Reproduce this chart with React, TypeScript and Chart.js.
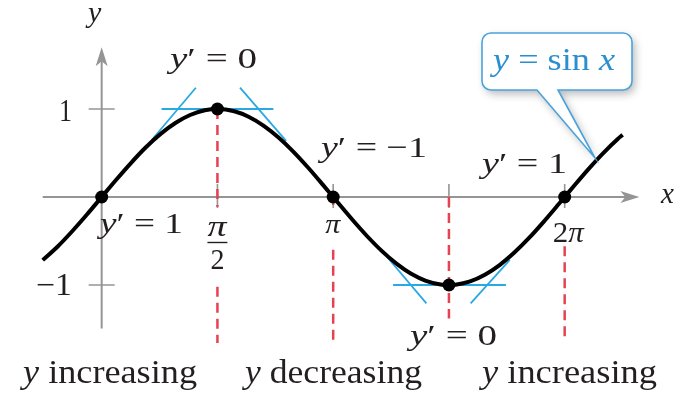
import React, { useEffect, useRef } from 'react';
import { Chart, registerables } from 'chart.js';

Chart.register(...registerables);

// ---- data ----
const curveX = [-0.8, -0.6, -0.4, -0.2, 0, 0.2, 0.4, 0.6, 0.8, 1.0, 1.2, 1.4, 1.5708, 1.8, 2.0, 2.2, 2.4, 2.6, 2.8, 3.0, 3.1416, 3.4, 3.6, 3.8, 4.0, 4.2, 4.4, 4.6, 4.7124, 4.8, 5.0, 5.2, 5.4, 5.6, 5.8, 6.0, 6.2, 6.2832, 6.4, 6.6, 6.8, 7.0, 7.07];
const curveY = [-0.717, -0.565, -0.389, -0.199, 0, 0.199, 0.389, 0.565, 0.717, 0.841, 0.932, 0.985, 1, 0.974, 0.909, 0.808, 0.675, 0.516, 0.335, 0.141, 0, -0.256, -0.443, -0.612, -0.757, -0.872, -0.952, -0.994, -1, -0.996, -0.959, -0.883, -0.773, -0.631, -0.465, -0.279, -0.083, 0, 0.117, 0.312, 0.494, 0.657, 0.706];

const keyX = [0, 1.5708, 3.1416, 4.7124, 6.2832];
const keyY = [0, 1, 0, -1, 0];
const slopeLabels = ['1', '0', '\u22121', '0', '1'];

// tangent segments: [x1, y1, x2, y2]
const tangentSegments = [
  [0.812, 1, 2.33, 1],
  [0.679, 0.648, 1.278, 1.242],
  [1.877, 1.242, 2.503, 0.637],
  [3.955, -1, 5.486, -1],
  [3.862, -0.67, 4.407, -1.209],
  [5.007, -1.209, 5.539, -0.714],
];

// dashed guides: [x, yFrom, yTo]
const guideSpans = [
  [1.5708, 1, -0.11],
  [1.5708, -1.02, -1.66],
  [3.1416, 0, -0.09],
  [3.1416, -0.6, -1.63],
  [4.7124, 0, -1.38],
  [6.2832, -0.56, -1.63],
];

const yTicks = [1, -1];
const yTickLabels = ['1', '\u22121'];
const xTicks = [1.5708, 3.1416, 4.7124, 6.2832];
const regionLabels = ['increasing', 'decreasing', 'increasing'];

const X_MIN = -1.2916, X_MAX = 7.9228, Y_MIN = -2.1758, Y_MAX = 2.1648;
const X_AXIS_FROM = -0.8, X_AXIS_TO = 7.297, Y_AXIS_FROM = -1.495, Y_AXIS_TO = 1.703;

const SERIF = '"Liberation Serif", "Times New Roman", serif';
const INK = '#231f20';
const AXIS = '#959595';
const RED = '#e8414f';
const BLUE = '#29a9e1';
const CALLOUT = '#2a8fd0';

type Run = { t: string; it?: boolean };

function drawRuns(ctx: CanvasRenderingContext2D, runs: Run[], left: number, baseline: number, size: number, width: number | null, color: string) {
  ctx.save();
  ctx.fillStyle = color;
  ctx.textBaseline = 'alphabetic';
  ctx.textAlign = 'left';
  let natural = 0;
  const ws: number[] = [];
  for (const r of runs) {
    ctx.font = `${r.it ? 'italic ' : ''}${size}px ${SERIF}`;
    const w = ctx.measureText(r.t).width;
    ws.push(w);
    natural += w;
  }
  const sx = width ? width / natural : 1;
  ctx.translate(left, baseline);
  ctx.scale(sx, 1);
  let x = 0;
  runs.forEach((r, i) => {
    ctx.font = `${r.it ? 'italic ' : ''}${size}px ${SERIF}`;
    ctx.fillText(r.t, x, 0);
    x += ws[i];
  });
  ctx.restore();
}

const slopeRuns = (v: string): Run[] => [{ t: 'y', it: true }, { t: '\u2032 = ' + v }];

const annotations = {
  id: 'annotations',
  beforeDatasetsDraw(chart: any) {
    const ctx: CanvasRenderingContext2D = chart.ctx;
    const xs = chart.scales.x, ys = chart.scales.y;
    const px = (v: number) => xs.getPixelForValue(v);
    const py = (v: number) => ys.getPixelForValue(v);
    ctx.save();
    // axes
    ctx.strokeStyle = AXIS;
    ctx.fillStyle = AXIS;
    ctx.lineWidth = 2;
    const x0 = px(0), y0 = py(0);
    const xEnd = px(X_AXIS_TO), yEnd = py(Y_AXIS_TO);
    ctx.beginPath();
    ctx.moveTo(px(X_AXIS_FROM), y0);
    ctx.lineTo(xEnd - 10, y0);
    ctx.moveTo(x0, py(Y_AXIS_FROM));
    ctx.lineTo(x0, yEnd + 10);
    ctx.stroke();
    // arrow heads
    ctx.beginPath();
    ctx.moveTo(xEnd, y0);
    ctx.lineTo(xEnd - 19, y0 - 6);
    ctx.lineTo(xEnd - 14, y0);
    ctx.lineTo(xEnd - 19, y0 + 6);
    ctx.closePath();
    ctx.fill();
    ctx.beginPath();
    ctx.moveTo(x0, yEnd);
    ctx.lineTo(x0 - 6, yEnd + 19);
    ctx.lineTo(x0, yEnd + 14);
    ctx.lineTo(x0 + 6, yEnd + 19);
    ctx.closePath();
    ctx.fill();
    // ticks
    ctx.lineWidth = 1.6;
    ctx.beginPath();
    for (const t of yTicks) {
      ctx.moveTo(x0 - 13, py(t));
      ctx.lineTo(x0 + 13, py(t));
    }
    for (const t of xTicks) {
      ctx.moveTo(px(t), y0 - 13);
      ctx.lineTo(px(t), y0 + 11);
    }
    ctx.stroke();
    // dashed guides
    ctx.strokeStyle = RED;
    ctx.lineWidth = 2.5;
    ctx.setLineDash([10, 6]);
    for (const g of guideSpans) {
      ctx.beginPath();
      ctx.moveTo(px(g[0]), py(g[1]));
      ctx.lineTo(px(g[0]), py(g[2]));
      ctx.stroke();
    }
    ctx.setLineDash([]);
    ctx.restore();
  },
  afterDatasetsDraw(chart: any) {
    const ctx: CanvasRenderingContext2D = chart.ctx;
    const xs = chart.scales.x, ys = chart.scales.y;
    const px = (v: number) => xs.getPixelForValue(v);
    const py = (v: number) => ys.getPixelForValue(v);
    ctx.save();
    // axis names
    drawRuns(ctx, [{ t: 'y', it: true }], 88, 22, 30, null, INK);
    drawRuns(ctx, [{ t: 'x', it: true }], 661, 203, 29, null, INK);
    // y tick labels
    drawRuns(ctx, [{ t: yTickLabels[0] }], 59, py(yTicks[0]) + 12, 31, 13, INK);
    drawRuns(ctx, [{ t: yTickLabels[1] }], 36, py(yTicks[1]) + 10, 31, 36, INK);
    // x tick labels
    const cx1 = px(xTicks[0]);
    drawRuns(ctx, [{ t: '\u03c0', it: true }], cx1 - 10, 236, 30, 19, INK);
    ctx.strokeStyle = INK;
    ctx.lineWidth = 1.4;
    ctx.beginPath();
    ctx.moveTo(cx1 - 10, 242.5);
    ctx.lineTo(cx1 + 10, 242.5);
    ctx.stroke();
    drawRuns(ctx, [{ t: '2' }], cx1 - 7, 269, 29, 14, INK);
    drawRuns(ctx, [{ t: '\u03c0', it: true }], px(xTicks[1]) - 8, 233, 28, 15, INK);
    drawRuns(ctx, [{ t: '2' }, { t: '\u03c0', it: true }], px(xTicks[3]) - 12, 242, 29, 31, INK);
    // slope labels
    drawRuns(ctx, slopeRuns(slopeLabels[0]), 100, 233, 30, 83, INK);
    drawRuns(ctx, slopeRuns(slopeLabels[1]), 170, 68, 30, 87, INK);
    drawRuns(ctx, slopeRuns(slopeLabels[2]), 321, 157, 30, 106, INK);
    drawRuns(ctx, slopeRuns(slopeLabels[3]), 410, 345, 30, 87, INK);
    drawRuns(ctx, slopeRuns(slopeLabels[4]), 482, 173, 30, 85, INK);
    // region labels
    const lefts = [23, 245, 482];
    const widths = [174, 177, 175];
    regionLabels.forEach((r, i) => {
      drawRuns(ctx, [{ t: 'y', it: true }, { t: ' ' + r }], lefts[i], 383, 33, widths[i], INK);
    });
    // callout
    const L = 482, R = 632, T = 33, B = 90, rad = 9;
    const path = () => {
      ctx.beginPath();
      ctx.moveTo(L + rad, T);
      ctx.lineTo(R - rad, T);
      ctx.arcTo(R, T, R, T + rad, rad);
      ctx.lineTo(R, B - rad);
      ctx.arcTo(R, B, R - rad, B, rad);
      ctx.lineTo(558, B);
      ctx.lineTo(595, 158);
      ctx.lineTo(537, B);
      ctx.lineTo(L + rad, B);
      ctx.arcTo(L, B, L, B - rad, rad);
      ctx.lineTo(L, T + rad);
      ctx.arcTo(L, T, L + rad, T, rad);
      ctx.closePath();
    };
    ctx.save();
    ctx.shadowColor = 'rgba(0,0,0,0.28)';
    ctx.shadowBlur = 8;
    ctx.shadowOffsetX = 3;
    ctx.shadowOffsetY = 4;
    path();
    ctx.fillStyle = '#ffffff';
    ctx.fill();
    ctx.restore();
    path();
    ctx.strokeStyle = '#4aa3dc';
    ctx.lineWidth = 1.6;
    ctx.stroke();
    drawRuns(ctx, [{ t: 'y', it: true }, { t: ' = sin ' }, { t: 'x', it: true }], 493, 70, 32, 122, CALLOUT);
    ctx.restore();
  },
};

export default function App() {
  const ref = useRef<HTMLCanvasElement>(null);
  useEffect(() => {
    const canvas = ref.current as HTMLCanvasElement;
    const chart = new Chart(canvas, {
      type: 'scatter',
      data: {
        datasets: [
          {
            data: keyX.map((x, i) => ({ x, y: keyY[i] })),
            pointRadius: 6.5,
            pointBackgroundColor: '#000000',
            pointBorderWidth: 0,
            showLine: false,
          } as any,
          {
            data: curveX.map((x, i) => ({ x, y: curveY[i] })),
            showLine: true,
            borderColor: '#000000',
            borderWidth: 4,
            pointRadius: 0,
            cubicInterpolationMode: 'monotone',
          } as any,
          ...tangentSegments.map((s) => ({
            data: [{ x: s[0], y: s[1] }, { x: s[2], y: s[3] }],
            showLine: true,
            borderColor: BLUE,
            borderWidth: 1.8,
            pointRadius: 0,
          } as any)),
        ],
      },
      options: {
        responsive: false,
        animation: false,
        devicePixelRatio: 1,
        events: [],
        layout: { padding: 0 },
        plugins: { legend: { display: false }, tooltip: { enabled: false } },
        scales: {
          x: { type: 'linear', min: X_MIN, max: X_MAX, display: false },
          y: { type: 'linear', min: Y_MIN, max: Y_MAX, display: false },
        },
      },
      plugins: [annotations],
    });
    return () => chart.destroy();
  }, []);
  return (
    <div style={{ position: 'absolute', left: 0, top: 0, width: 692, height: 395, background: '#ffffff' }}>
      <canvas ref={ref} width={692} height={395} style={{ width: 692, height: 395, display: 'block' }} />
    </div>
  );
}
